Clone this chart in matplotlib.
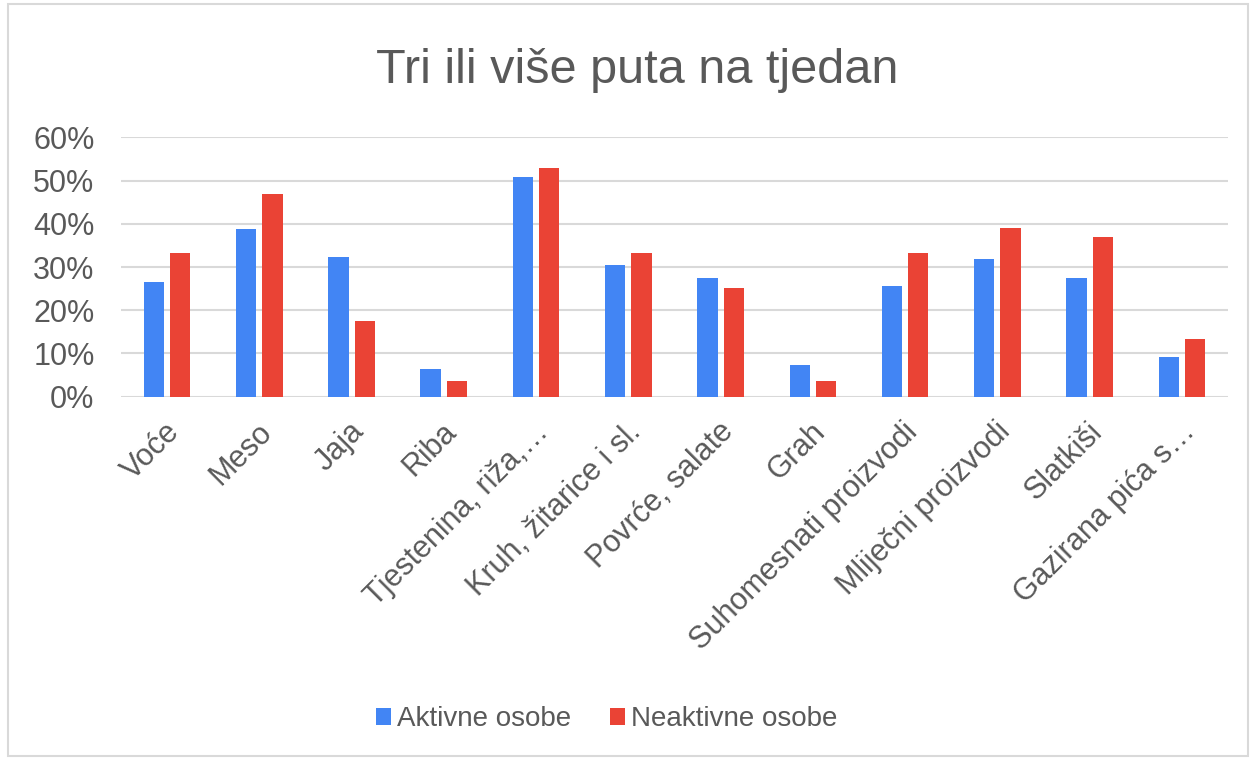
import numpy as np
import matplotlib.pyplot as plt
import matplotlib.transforms as mtransforms
from matplotlib.patches import Rectangle
from matplotlib.ticker import PercentFormatter

plt.rcParams['font.family'] = ['Liberation Sans', 'DejaVu Sans']

# Data
kategorije = ["Voće", "Meso", "Jaja", "Riba", "Tjestenina, riža,…", "Kruh, žitarice i sl.",
              "Povrće, salate", "Grah", "Suhomesnati proizvodi", "Mliječni proizvodi",
              "Slatkiši", "Gazirana pića s…"]
aktivne = [26.5, 38.9, 32.3, 6.4, 50.8, 30.4, 27.4, 7.4, 25.6, 31.8, 27.4, 9.2]
neaktivne = [33.2, 47.0, 17.4, 3.6, 52.9, 33.2, 25.2, 3.6, 33.2, 39.0, 37.0, 13.4]

plava = "#4285F4"
crvena = "#EA4335"
siva = "#595959"

fig = plt.figure(figsize=(12.56, 7.6), dpi=100)
ax = fig.add_axes([0.0963, 0.478, 0.8814, 0.3413])

x = np.arange(len(kategorije))
w = 0.22
ax.bar(x - 0.143, aktivne, w, color=plava, label="Aktivne osobe", zorder=3)
ax.bar(x + 0.143, neaktivne, w, color=crvena, label="Neaktivne osobe", zorder=3)

ax.set_xlim(-0.5, len(kategorije) - 0.5)
ax.set_ylim(0, 60)
ax.set_yticks(np.arange(0, 61, 10))
ax.yaxis.set_major_formatter(PercentFormatter(decimals=0))
ax.grid(axis='y', color='#d9d9d9', linewidth=1.5, zorder=0)
for s in ax.spines.values():
    s.set_visible(False)
ax.tick_params(axis='both', length=0, labelsize=22, labelcolor=siva)
ax.tick_params(axis='y', pad=19)

ax.set_xticks(x)
ax.set_xticklabels(kategorije, rotation=45, ha='right', va='center', rotation_mode='anchor')
ax.tick_params(axis='x', pad=22)
pomak = mtransforms.ScaledTranslation(6 / 72, 0, fig.dpi_scale_trans)
for lab in ax.get_xticklabels():
    lab.set_transform(lab.get_transform() + pomak)

fig.text(0.507, 0.8908, "Tri ili više puta na tjedan", ha='center', va='baseline',
         fontsize=35, color=siva)

fig.legend(loc='center', bbox_to_anchor=(0.483, 0.054), ncol=2, frameon=False,
           fontsize=20, labelcolor=siva, handlelength=0.55, handleheight=0.55,
           handletextpad=0.2, columnspacing=1.4)

# okvir grafikona
fig.patches.append(Rectangle((8 / 1256, 4 / 760), 1240 / 1256, 752 / 760,
                             transform=fig.transFigure, fill=False,
                             edgecolor='#d9d9d9', linewidth=1.5))

fig.savefig("out.png", dpi=100)
